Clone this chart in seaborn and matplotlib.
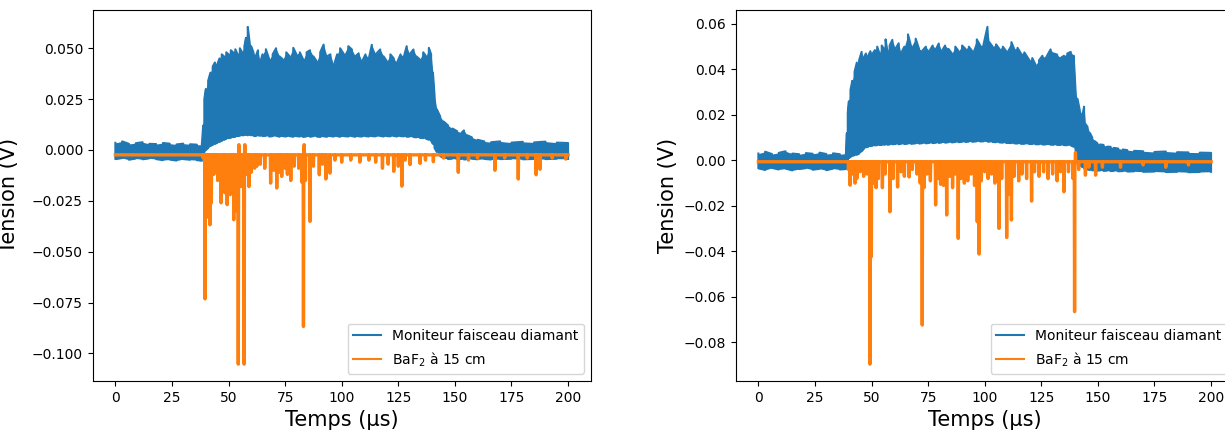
import numpy as np
import pandas as pd
import seaborn as sns
import matplotlib.pyplot as plt

# ---------------- left panel ----------------
# diamond beam monitor: upper / lower envelope of the fast oscillation (V)
left_t = [0, 3, 6, 9, 12, 15, 18, 21, 24, 27, 30, 33, 36, 38.2,
          38.8, 39.3, 40, 41, 42, 43, 44, 45, 46, 47, 48, 49, 50, 51, 52, 53, 54, 55, 56, 57, 57.7, 58.5, 59.3,
          60, 61, 62, 63, 64, 65, 66.5, 68, 69.5, 71, 72.5, 74, 75.5, 77,
          78.6, 80, 81.5, 83, 84.5, 86, 87.5, 89, 90.5, 92, 93.5, 95, 96.5, 98, 99.3,
          101, 102.9, 104.5, 106, 107.5, 109, 110.5, 112, 113.3, 115, 117, 118.5, 120, 121.5, 123, 124.4,
          126, 127.5, 128.7, 130, 131.7, 133, 134.5, 136, 137.3, 138.5, 139.5,
          140.3, 141, 142, 143.5, 145, 147, 149, 151, 153, 154, 155.5, 157.5, 160, 163, 166, 170, 175,
          180, 185, 190, 195, 200]
left_hi = [0.0035, 0.0042, 0.0030, 0.0033, 0.0038, 0.0030, 0.0029, 0.0034, 0.0031, 0.0027, 0.0031, 0.0028, 0.0026, 0.0025,
           0.012, 0.025, 0.030, 0.034, 0.038, 0.041, 0.043, 0.042, 0.045, 0.047, 0.046, 0.048, 0.047, 0.049, 0.048,
           0.0495, 0.047, 0.050, 0.048, 0.051, 0.0551, 0.0605, 0.053,
           0.051, 0.048, 0.046, 0.049, 0.043, 0.047, 0.0495, 0.0445, 0.047, 0.050, 0.046, 0.0445, 0.048, 0.046,
           0.0502, 0.047, 0.048, 0.0444, 0.048, 0.049, 0.046, 0.0435, 0.048, 0.0518, 0.046, 0.047, 0.0415, 0.047, 0.050,
           0.047, 0.051, 0.0494, 0.046, 0.0475, 0.0435, 0.047, 0.045, 0.0517, 0.047, 0.0494, 0.046, 0.0435, 0.047,
           0.045, 0.0428,
           0.047, 0.046, 0.051, 0.047, 0.0494, 0.046, 0.0445, 0.048, 0.046, 0.0502, 0.047,
           0.038, 0.027, 0.020, 0.0165, 0.014, 0.012, 0.0105, 0.0092, 0.0085, 0.0096, 0.0072, 0.0062, 0.005, 0.0042,
           0.0038, 0.0042, 0.0036, 0.0040, 0.0037, 0.0041, 0.0036, 0.0034]
left_lo = [-0.0045, -0.0040, -0.0048, -0.0042, -0.0046, -0.0041, -0.0045, -0.0050, -0.0047, -0.0052, -0.0045, -0.0048,
           -0.0050, -0.0053,
           -0.003, -0.001, 0.000, 0.001, 0.002, 0.0025, 0.003, 0.0035, 0.004, 0.0045, 0.005, 0.0055, 0.0058, 0.006,
           0.0063, 0.0065, 0.0068, 0.007, 0.0072, 0.0073, 0.0075, 0.0072, 0.0075,
           0.0072, 0.007, 0.0068, 0.0072, 0.007, 0.0068, 0.007, 0.0066, 0.0068, 0.007, 0.0065, 0.0068, 0.0066, 0.0068,
           0.0065, 0.0068, 0.0066, 0.0064, 0.0067, 0.0065, 0.0068, 0.0066, 0.0064, 0.0067, 0.0065, 0.0068, 0.0066,
           0.0068, 0.0065,
           0.0068, 0.0066, 0.0068, 0.0065, 0.0067, 0.0066, 0.0068, 0.0066, 0.0068, 0.0067, 0.0069, 0.0066, 0.0068,
           0.0067, 0.0069, 0.0066,
           0.0068, 0.0067, 0.0065, 0.0066, 0.0064, 0.0062, 0.006, 0.0058, 0.0055, 0.005, 0.0045,
           0.003, 0.001, -0.001, -0.003, -0.004, -0.0045, -0.0042, -0.0046, -0.0044, -0.0047, -0.0045, -0.0043,
           -0.0046, -0.0044, -0.0047, -0.0045, -0.0043, -0.0046, -0.0044, -0.0045, -0.0043, -0.0044]

# BaF2 detector: baseline level and pulse extrema (V)
left_baf_base = -0.0024
left_spike_t = [38.8, 39.6, 40.3, 40.9, 41.8, 42.4, 43.5, 44.5, 45.2, 46.7, 47.5, 48.3, 49.4, 50.7, 51.5, 52.3,
                53.0, 54.3, 54.6, 55.5, 56.9, 57.2, 58.0, 59.0, 60.0, 61.5, 62.5, 64.0, 66.0, 68.6, 70.0, 71.3,
                72.5, 73.5, 75.0, 76.0, 77.5, 79.0, 81.0, 82.5, 83.1, 83.4, 84.0, 86.0, 87.5, 90.1, 91.5, 93.0,
                94.8, 97.0, 100, 104, 108, 112, 115, 118, 120.5, 123, 125, 126.6, 128, 130.2, 134.6, 137,
                140.5, 145, 151.5, 156, 160, 167.7, 172, 178, 182, 185.9, 187.6, 193, 199]
left_spike_v = [-0.004, -0.0732, -0.030, -0.033, -0.0368, -0.0261, -0.012, -0.009, -0.015, -0.026, -0.012, -0.021,
                -0.0269, -0.022, -0.010, -0.0343, -0.030, -0.1053, 0.0026, -0.018, -0.1053, 0.0026, -0.012, -0.018,
                -0.011, -0.009, -0.008, -0.007, -0.009, -0.0163, -0.010, -0.0187, -0.011, -0.013, -0.009, -0.012,
                -0.015, -0.008, -0.009, -0.016, -0.0868, 0.0026, -0.015, -0.0351, -0.008, -0.0122, -0.007, -0.0143,
                -0.0114, -0.005, -0.006, -0.005, -0.006, -0.005, -0.006, -0.009, -0.007, -0.0105, -0.008, -0.0178,
                -0.005, -0.0072, -0.0066, -0.005, -0.0058, -0.004, -0.011, -0.005, -0.004, -0.010, -0.004, -0.0143,
                -0.004, -0.0122, -0.0095, -0.004, -0.0045]

# ---------------- right panel ----------------
right_t = [0, 3, 6, 9, 12, 15, 18, 21, 24, 27, 30, 33, 36, 38.7,
           39.1, 39.5, 40, 40.7, 41.5, 42.5, 43.5, 44.5, 45.6, 46.5, 47.5, 48.5, 49.5, 50.5, 51.5, 52.5, 53.5,
           54.5, 55.5, 56.2, 57, 58, 59.2,
           60.5, 62, 63, 64.5, 66.1, 67.5, 69.5, 71, 72.5, 74,
           75.5, 77, 78.5, 79.7, 81, 82.5, 84, 85.5, 87, 88.5,
           90, 91.5, 93, 94.5, 96.5, 98, 99.5, 101.2, 102, 103.5,
           105, 106.5, 108, 109.5, 111.8, 113, 114.5, 116, 117.5, 119.7,
           121, 122.5, 124, 125.5, 127, 129.1, 130.5, 132, 133.5, 135,
           136.5, 138, 139.3,
           140.2, 141, 142, 143.2, 143.9, 144.5, 145.4, 146.5, 147.5, 148.5, 149.8, 151, 152.5, 154, 155.6,
           157, 159, 161, 163, 166, 170, 175, 180, 185, 190, 195, 200]
right_hi = [0.0030, 0.0038, 0.0028, 0.0033, 0.0040, 0.0030, 0.0027, 0.0032, 0.0029, 0.0034, 0.0028, 0.0031, 0.0027,
            0.0030,
            0.012, 0.021, 0.026, 0.031, 0.035, 0.039, 0.043, 0.044, 0.0477, 0.045, 0.047, 0.046, 0.048, 0.047,
            0.0485, 0.050, 0.047, 0.0505, 0.049, 0.0532, 0.048, 0.0505, 0.053,
            0.049, 0.0515, 0.047, 0.050, 0.0554, 0.050, 0.0535, 0.049, 0.0483, 0.050,
            0.048, 0.0505, 0.049, 0.0514, 0.048, 0.0505, 0.049, 0.047, 0.050, 0.048,
            0.0505, 0.049, 0.050, 0.048, 0.0532, 0.0505, 0.051, 0.0587, 0.052, 0.050,
            0.051, 0.049, 0.050, 0.048, 0.052, 0.049, 0.0495, 0.047, 0.0475, 0.0441,
            0.045, 0.042, 0.044, 0.046, 0.045, 0.0488, 0.047, 0.0465, 0.045, 0.046,
            0.047, 0.0477, 0.046,
            0.0294, 0.027, 0.022, 0.020, 0.0236, 0.016, 0.0148, 0.012, 0.010, 0.0085, 0.0075, 0.007, 0.0068, 0.006,
            0.006, 0.0055, 0.0052, 0.0048, 0.0045, 0.0042, 0.004, 0.0037, 0.0039, 0.0036, 0.0035, 0.0034, 0.0033]
right_lo = [-0.0035, -0.0042, -0.0033, -0.0040, -0.0036, -0.0044, -0.0038, -0.0034, -0.0041, -0.0037, -0.0043, -0.0036,
            -0.0040, -0.0038,
            -0.002, 0.0, 0.001, 0.0015, 0.002, 0.0023, 0.0025, 0.003, 0.004, 0.005, 0.0058, 0.006, 0.0063, 0.0065,
            0.0066, 0.0067, 0.0068, 0.0068, 0.0069, 0.007, 0.0069, 0.007, 0.0071,
            0.0072, 0.0071, 0.0073, 0.0072, 0.0074, 0.0073, 0.0075, 0.0074, 0.0076, 0.0075,
            0.0077, 0.0076, 0.0078, 0.0077, 0.0079, 0.0078, 0.008, 0.0079, 0.0081, 0.008,
            0.0082, 0.0081, 0.0083, 0.0082, 0.0084, 0.0083, 0.0084, 0.0083, 0.0082, 0.0081,
            0.008, 0.0079, 0.0078, 0.0077, 0.0076, 0.0075, 0.0074, 0.0073, 0.0073, 0.0072,
            0.0072, 0.0071, 0.0071, 0.007, 0.007, 0.0069, 0.0069, 0.0068, 0.0068, 0.0067,
            0.0067, 0.0066, 0.006,
            0.003, -0.001, -0.002, -0.003, -0.0035, -0.0038, -0.004, -0.0042, -0.0044, -0.0043, -0.0045, -0.0044,
            -0.0046, -0.0045, -0.0047, -0.0046, -0.0048, -0.0047, -0.0049, -0.0048, -0.005, -0.0049, -0.0051,
            -0.005, -0.0052, -0.0051, -0.005]

right_baf_base = -0.0006
right_spike_t = [39.8, 40.5, 41.5, 42.7, 43.5, 45.0, 46.5, 48.0, 49.3, 49.9, 51.0, 52.0, 53.0, 54.8, 56.0, 58.1,
                 59.5, 61.5, 63.0, 64.5, 66.6, 68.0, 70.0, 71.5, 72.4, 73.2, 74.5, 76.0, 78.3, 79.5, 80.5, 81.8,
                 83.2, 84.5, 85.8, 87.0, 88.3, 89.5, 91.0, 92.5, 94.0, 95.5, 96.7, 97.5, 98.5, 100, 101.5, 103,
                 104.5, 106.3, 107.5, 109.7, 110.5, 111.8, 113, 115, 116.5, 118.5, 120.7, 122, 124, 126, 128, 130,
                 132, 133.5, 135, 137, 139.0, 139.7, 140.1, 141.5, 144.5, 146, 149, 152, 160, 170, 180, 190]
right_spike_v = [-0.004, -0.0109, -0.006, -0.010, -0.008, -0.005, -0.007, -0.006, -0.0896, -0.0424, -0.010, -0.012,
                 -0.008, -0.012, -0.006, -0.0226, -0.008, -0.0117, -0.005, -0.007, -0.0073, -0.004, -0.006, -0.010,
                 -0.0724, -0.012, -0.006, -0.009, -0.0196, -0.008, -0.0105, -0.011, -0.024, -0.007, -0.012, -0.006,
                 -0.0343, -0.008, -0.010, -0.009, -0.006, -0.011, -0.027, -0.0412, -0.009, -0.005, -0.008, -0.006,
                 -0.010, -0.0299, -0.008, -0.0339, -0.015, -0.0262, -0.007, -0.009, -0.006, -0.008, -0.0179, -0.005,
                 -0.007, -0.005, -0.008, -0.006, -0.009, -0.005, -0.0138, -0.005, -0.008, -0.0665, 0.0034, -0.004,
                 -0.0065, -0.003, -0.0065, -0.003, -0.003, -0.002, -0.003, -0.002]

blue = "#1f77b4"
orange = "#ff7f0e"


def beam_trace(t, hi, lo):
    # oscillation drawn as successive swings between the two envelopes
    xs, ys = [], []
    for i in range(len(t)):
        pair = (hi[i], lo[i]) if i % 2 == 0 else (lo[i], hi[i])
        xs += [t[i], t[i]]
        ys += list(pair)
    return pd.DataFrame({"t": xs, "v": ys})


def baf_trace(base, spike_t, spike_v, w=0.14):
    xs, ys = [0], [base]
    for st, sv in zip(spike_t, spike_v):
        xs += [st - w, st, st + w]
        ys += [base, sv, base]
    xs.append(200)
    ys.append(base)
    return pd.DataFrame({"t": xs, "v": ys})


def draw_panel(ax, t, hi, lo, base, spike_t, spike_v, labelpad=4):
    ax.fill_between(t, lo, hi, color=blue, lw=0)
    sns.lineplot(data=beam_trace(t, hi, lo), x="t", y="v", sort=False, estimator=None,
                 color=blue, lw=1.5, ax=ax, label="Moniteur faisceau diamant")
    sns.lineplot(data=baf_trace(base, spike_t, spike_v), x="t", y="v", sort=False, estimator=None,
                 color=orange, lw=2.4, ax=ax, label="BaF$_2$ à 15 cm")
    ax.set_xlabel("Temps (µs)", fontsize=15)
    ax.set_ylabel("Tension (V)", fontsize=15, labelpad=labelpad)
    legend = ax.legend(loc="lower right", fontsize=10)
    for line in legend.get_lines():
        line.set_linewidth(1.5)


fig = plt.figure(figsize=(12.25, 4.32), dpi=100)
ax1 = fig.add_axes([0.0757, 0.118, 0.4065, 0.8588])
ax2 = fig.add_axes([0.6006, 0.118, 0.4065, 0.8588])

draw_panel(ax1, left_t, left_hi, left_lo, left_baf_base, left_spike_t, left_spike_v, labelpad=9)
draw_panel(ax2, right_t, right_hi, right_lo, right_baf_base, right_spike_t, right_spike_v)

plt.savefig("out.png", dpi=100)
